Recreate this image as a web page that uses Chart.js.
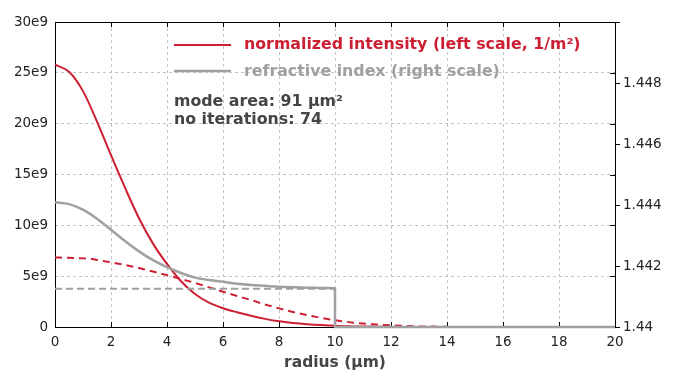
<!DOCTYPE html>
<html>
<head>
<meta charset="utf-8">
<script src="https://cdn.jsdelivr.net/npm/chart.js@4/dist/chart.umd.min.js"></script>
<style>
  html,body{margin:0;padding:0;background:#fff}
  #wrap{width:699px;height:373px}
</style>
</head>
<body>
<div id="wrap"><canvas id="c" width="699" height="373"></canvas></div>
<script>
// radius grid (µm) for the intensity curves
const radius = [0,0.5,1,1.5,2,2.5,3,3.5,4,4.5,5,5.5,6,6.5,7,7.5,8,8.5,9,9.5,10,
  10.5,11,11.5,12,12.5,13,13.5,14,14.5,15,15.5,16,16.5,17,17.5,18,18.5,19,19.5,20];
// normalized intensity, units of 1e9 / m²
const intensity = [25.8,25.1,23.2,20.2,16.9,13.7,10.7,8.2,6.2,4.5,3.25,2.4,1.85,1.45,1.1,0.8,0.56,0.4,0.28,0.19,0.13,
  0.07,0.04,0.02,0.01,null,null,null,null,null,null,null,null,null,null,null,null,null,null,null,null];
const intensityStep = [6.84,6.8,6.75,6.6,6.35,6.1,5.8,5.45,5.1,4.72,4.33,3.9,3.47,3.05,2.65,2.22,1.83,1.48,1.17,0.9,0.67,
  0.48,0.34,0.24,0.16,0.1,0.06,0.04,0.02,null,null,null,null,null,null,null,null,null,null,null,null];
// refractive index profiles (right scale)
const coreRadius = [0,0.5,1,1.5,2,2.5,3,3.5,4,4.5,5,5.5,6,6.5,7,7.5,8,8.5,9,9.5,10];
const coreIndex = [1.44409,1.44403,1.44385,1.44355,1.44319,1.44282,1.44248,1.44219,1.44196,1.44177,1.44162,1.44154,
  1.44148,1.44142,1.44138,1.44135,1.44132,1.4413,1.44129,1.44128,1.44127];
const cladRadius = [10,10,20];
const cladIndex = [1.44127,1.44,1.44];
const stepRadius = [0,10,10,20];
const stepIndex = [1.441255,1.441255,1.44,1.44];
const xTicks = [0,2,4,6,8,10,12,14,16,18,20];

const RED = '#cc1f33', GRAY = '#a0a0a0', TXT = '#444';
const pts = (xs, ys) => xs.map((x,i) => ({x, y: ys[i]}));

const frame = {
  id:'frame',
  beforeDatasetsDraw(ch){
    const {ctx, chartArea:a, scales} = ch;
    ctx.save();
    ctx.strokeStyle = '#000'; ctx.lineWidth = 1;
    ctx.beginPath();
    scales.x.ticks.forEach(t => {
      const px = Math.round(scales.x.getPixelForValue(t.value)) + 0.5;
      ctx.moveTo(px, a.bottom); ctx.lineTo(px, a.bottom - 5);
      ctx.moveTo(px, a.top); ctx.lineTo(px, a.top + 5);
    });
    scales.y.ticks.forEach(t => {
      const py = Math.round(scales.y.getPixelForValue(t.value)) + 0.5;
      ctx.moveTo(a.right, py); ctx.lineTo(a.right - 5, py);
    });
    scales.y2.ticks.forEach(t => {
      const py = Math.round(scales.y2.getPixelForValue(t.value)) + 0.5;
      ctx.moveTo(a.right, py); ctx.lineTo(a.right + 5, py);
    });
    ctx.stroke();
    ctx.strokeRect(Math.round(a.left)+0.5, Math.round(a.top)+0.5, Math.round(a.right-a.left), Math.round(a.bottom-a.top));
    ctx.restore();
  },
  afterDraw(ch){
    const ctx = ch.ctx;
    ctx.save();
    ctx.font = 'bold 15.8px "DejaVu Sans"';
    ctx.textBaseline = 'middle';
    ctx.lineWidth = 2; ctx.strokeStyle = RED;
    ctx.beginPath(); ctx.moveTo(174, 45); ctx.lineTo(231, 45); ctx.stroke();
    ctx.fillStyle = RED; ctx.fillText('normalized intensity (left scale, 1/m²)', 244, 45);
    ctx.lineWidth = 2.5; ctx.strokeStyle = GRAY;
    ctx.beginPath(); ctx.moveTo(174, 71); ctx.lineTo(231, 71); ctx.stroke();
    ctx.fillStyle = GRAY; ctx.fillText('refractive index (right scale)', 244, 72);
    ctx.fillStyle = TXT;
    ctx.fillText('mode area: 91 µm²', 174, 102);
    ctx.fillText('no iterations: 74', 174, 120);
    ctx.restore();
  }
};

const tickFont = {family:'"DejaVu Sans"', size:13.5};
const gridDash = {color:'#c4c4c4', lineWidth:1, drawTicks:false};
const smooth = {cubicInterpolationMode:'monotone'};

new Chart(document.getElementById('c'), {
  type:'line',
  data:{datasets:[
    {data:pts(coreRadius, coreIndex), yAxisID:'y2', borderColor:GRAY, borderWidth:2.5, order:0, ...smooth},
    {data:pts(cladRadius, cladIndex), yAxisID:'y2', borderColor:GRAY, borderWidth:2.5, order:0},
    {data:pts(stepRadius, stepIndex), yAxisID:'y2', borderColor:GRAY, borderWidth:2, borderDash:[7,4], order:1},
    {data:pts(radius, intensity), yAxisID:'y', borderColor:RED, borderWidth:2, order:2, ...smooth},
    {data:pts(radius, intensityStep), yAxisID:'y', borderColor:RED, borderWidth:2, borderDash:[7,5], order:3, ...smooth}
  ]},
  options:{
    responsive:false, animation:false,
    layout:{padding:{top:22, left:0, right:0, bottom:0}},
    elements:{point:{radius:0}, line:{tension:0}},
    datasets:{line:{clip:false, spanGaps:false}},
    plugins:{legend:{display:false}, tooltip:{enabled:false}},
    scales:{
      x:{type:'linear', min:0, max:20,
        afterBuildTicks: s => { s.ticks = xTicks.map(v => ({value:v})); },
        afterFit: s => { s.height = 46; },
        ticks:{font:tickFont, color:'#222', padding:7, maxRotation:0},
        grid:{...gridDash},
        border:{display:false, dash:[3,3]},
        title:{display:true, text:'radius (µm)', color:TXT, font:{family:'"DejaVu Sans"', size:15.5, weight:'bold'}, padding:{top:0,bottom:1}}
      },
      y:{position:'left', min:0, max:30, ticks:{stepSize:5, font:tickFont, color:'#222', padding:7,
          callback: v => v === 0 ? '0' : v + 'e9'},
        afterFit: s => { s.width = 55; },
        grid:{...gridDash}, border:{display:false, dash:[3,3]}
      },
      y2:{position:'right', min:1.44, max:1.45, ticks:{stepSize:0.002, font:tickFont, color:'#222', padding:8,
          callback: v => v > 1.4495 ? '' : String(+v.toFixed(3))},
        afterFit: s => { s.width = 84; },
        grid:{drawOnChartArea:false, drawTicks:false}, border:{display:false}
      }
    }
  },
  plugins:[frame]
});
</script>
</body>
</html>
